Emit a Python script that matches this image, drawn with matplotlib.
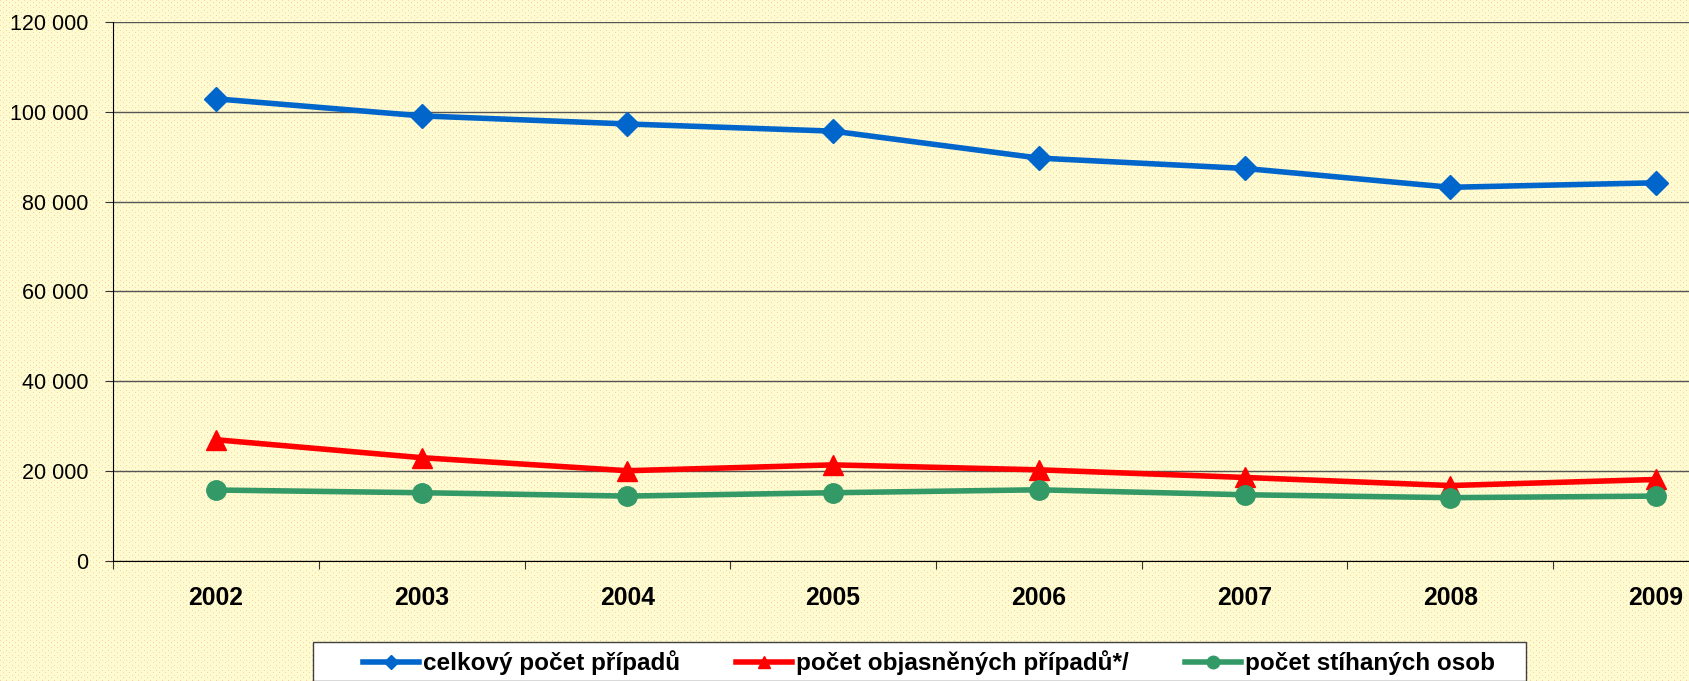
import numpy as np
import matplotlib.pyplot as plt
from matplotlib.lines import Line2D
from matplotlib.patches import Rectangle
from matplotlib.ticker import FuncFormatter, FixedLocator

# data
roky = ['2002', '2003', '2004', '2005', '2006', '2007', '2008', '2009']
celkem = [102900, 99100, 97300, 95700, 89700, 87400, 83200, 84200]
objasneno = [27000, 23000, 20100, 21400, 20300, 18600, 16800, 18150]
stihano = [15800, 15200, 14450, 15200, 15850, 14750, 14100, 14450]

serie = ['celkový počet případů', 'počet objasněných případů*/', 'počet stíhaných osob']

W, H = 1689, 681
plt.rcParams['font.family'] = ['Liberation Sans', 'DejaVu Sans']


# pozadi - svetle zluta s oranzovymi tecickami
def textura(w, h):
    img = np.empty((h, w, 3))
    img[:] = np.array([255, 251, 208]) / 255
    yy, xx = np.mgrid[0:h, 0:w]
    tecky = ((yy % 5 == 0) & (xx % 6 == 0)) | ((yy % 5 == 2) & (xx % 6 == 3))
    img[tecky] = np.array([250, 208, 165]) / 255
    return img


fig = plt.figure(figsize=(W / 100, H / 100), dpi=100)
fig.patch.set_facecolor('#FFFBD0')
fig.figimage(textura(W, H), xo=0, yo=0, zorder=-1)

ax = fig.add_axes([113 / W, 1 - 561 / H, 1646 / W, 539 / H])
ax.set_facecolor('none')

x = np.arange(len(roky))
ax.plot(x, celkem, color='#0066CC', lw=4, marker='D', ms=12.5, zorder=3)
ax.plot(x, objasneno, color='#FF0000', lw=4, marker='^', ms=14.5, zorder=3)
ax.plot(x, stihano, color='#339966', lw=4, marker='o', ms=14, zorder=3)

ax.set_xlim(-0.5, len(roky) - 0.5)
ax.set_ylim(0, 120000)
ax.set_yticks(np.arange(0, 120001, 20000))
ax.yaxis.set_major_formatter(FuncFormatter(lambda v, p: f'{int(v):,}'.replace(',', ' ')))
ax.grid(axis='y', color='#555555', lw=1)
ax.set_axisbelow(True)

# hranice kategorii a popisky uprostred
ax.xaxis.set_major_locator(FixedLocator(np.arange(-0.5, len(roky), 1)))
ax.xaxis.set_minor_locator(FixedLocator(x))
ax.set_xticklabels([])
ax.set_xticklabels(roky, minor=True, fontsize=17.8, fontweight='bold')
ax.tick_params(axis='x', which='major', length=6, color='#333333', direction='out')
ax.tick_params(axis='x', which='minor', length=0, pad=18)
ax.tick_params(axis='y', length=6, color='#333333', pad=12, labelsize=15.5)

for s in ['top', 'right']:
    ax.spines[s].set_visible(False)
ax.spines['left'].set_color('black')
ax.spines['bottom'].set_color('black')

# legenda
fig.patches.append(Rectangle((313 / W, 0), (1526 - 313) / W, 1 - 642 / H,
                             transform=fig.transFigure, facecolor='white',
                             edgecolor='#404040', lw=1, zorder=1))
handles = [Line2D([], [], color='#0066CC', lw=4, marker='D', ms=7),
           Line2D([], [], color='#FF0000', lw=4, marker='^', ms=9),
           Line2D([], [], color='#339966', lw=4, marker='o', ms=9)]
leg = fig.legend(handles, serie, loc='center left',
                 bbox_to_anchor=(363 / W, 1 - 663 / H), ncol=3, frameon=False,
                 borderpad=0, borderaxespad=0, handlelength=2.3, handletextpad=0.17,
                 columnspacing=2.3, prop={'size': 17.5, 'weight': 'bold'})
leg.set_zorder(5)

fig.savefig('out.png', dpi=100)
